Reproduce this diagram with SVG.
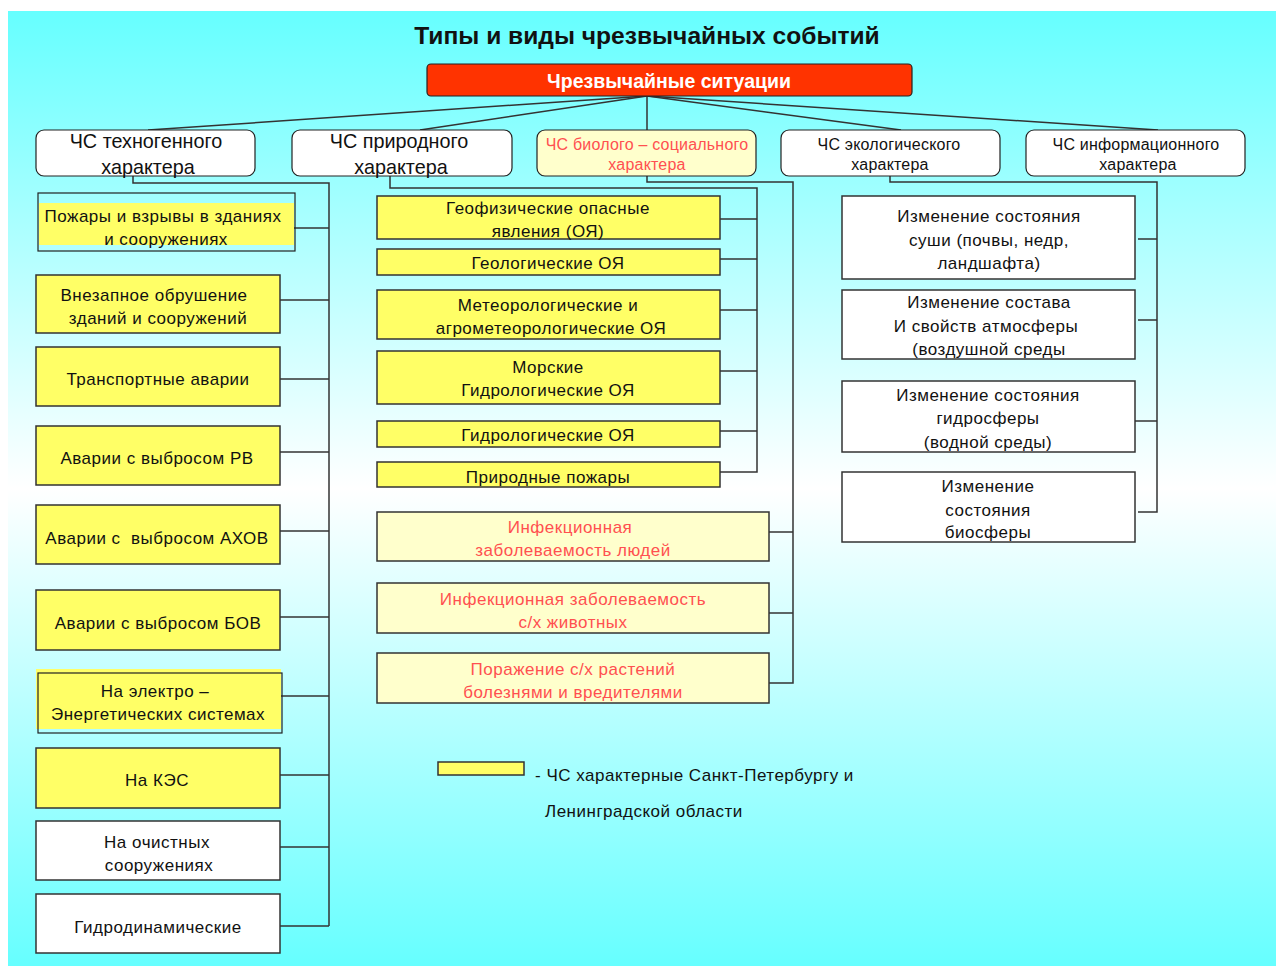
<svg xmlns="http://www.w3.org/2000/svg" width="1276" height="967" viewBox="0 0 1276 967">
<defs>
<linearGradient id="bg" x1="0" y1="0" x2="0" y2="1">
<stop offset="0" stop-color="#66FFFF"/>
<stop offset="0.5" stop-color="#FFFFFF"/>
<stop offset="1" stop-color="#66FFFF"/>
</linearGradient>
<style>
text{font-family:"Liberation Sans",Arial,sans-serif;text-anchor:middle;dominant-baseline:central;fill:#111}
.box{stroke:#333;stroke-width:1.5}
.y{fill:#FFFF66}
.w{fill:#FFFFFF}
.p{fill:#FFFFCC}
.hd{fill:#FFFFFF;stroke:#222;stroke-width:1.2}
.t16{font-size:17px;letter-spacing:0.5px}
.t19{font-size:19.8px}
.t15{font-size:16px;letter-spacing:0.2px}
.red{fill:#FF5050}
.con line,.con polyline{stroke:#333;stroke-width:1.5;fill:none}
</style>
</defs>
<rect x="8" y="11" width="1268" height="955" fill="url(#bg)"/>
<text x="647" y="35" style="font-size:24.6px;font-weight:bold">Типы и виды чрезвычайных событий</text>

<g class="con">
<line x1="647" y1="96" x2="148" y2="130"/>
<line x1="647" y1="96" x2="420" y2="130"/>
<line x1="647" y1="96" x2="647" y2="130"/>
<line x1="647" y1="96" x2="901" y2="130"/>
<line x1="647" y1="96" x2="1158" y2="130"/>
<polyline points="133,176 133,183 329,183 329,926"/>
<line x1="293" y1="228" x2="329" y2="228"/>
<line x1="280" y1="300" x2="329" y2="300"/>
<line x1="280" y1="379" x2="329" y2="379"/>
<line x1="280" y1="452" x2="329" y2="452"/>
<line x1="280" y1="531" x2="329" y2="531"/>
<line x1="280" y1="617" x2="329" y2="617"/>
<line x1="281" y1="696" x2="329" y2="696"/>
<line x1="280" y1="775" x2="329" y2="775"/>
<line x1="280" y1="847" x2="329" y2="847"/>
<line x1="280" y1="926" x2="329" y2="926"/>
<polyline points="390,176 390,188 757,188 757,472 720,472"/>
<line x1="720" y1="219" x2="757" y2="219"/>
<line x1="720" y1="259" x2="757" y2="259"/>
<line x1="720" y1="310" x2="757" y2="310"/>
<line x1="720" y1="371" x2="757" y2="371"/>
<line x1="720" y1="431" x2="757" y2="431"/>
<polyline points="647,176 647,182 793,182 793,683 767,683"/>
<line x1="767" y1="532" x2="793" y2="532"/>
<line x1="767" y1="613" x2="793" y2="613"/>
<polyline points="890,176 890,182 1157,182 1157,512 1138,512"/>
<line x1="1138" y1="239" x2="1157" y2="239"/>
<line x1="1138" y1="320" x2="1157" y2="320"/>
<line x1="1128" y1="421" x2="1157" y2="421"/>
</g>

<g id="root">
<rect x="427" y="64" width="485" height="32" rx="4" fill="#FF3300" stroke="#222" stroke-width="1.2"/>
<text x="669" y="81" style="font-size:19.5px;font-weight:bold;fill:#FFFFFF">Чрезвычайные ситуации</text>
</g>

<g id="h1"><rect class="hd" x="36" y="130" width="219" height="46" rx="8"/>
<text class="t19" x="146" y="141">ЧС техногенного</text><text class="t19" x="148" y="167">характера</text></g>
<g id="h2"><rect class="hd" x="292" y="130" width="220" height="46" rx="8"/>
<text class="t19" x="399" y="141">ЧС природного</text><text class="t19" x="401" y="167">характера</text></g>
<g id="h3"><rect class="hd" x="537" y="130" width="219" height="46" rx="8" style="fill:#FFFFCC"/>
<text class="t15 red" x="647" y="144">ЧС биолого – социального</text><text class="t15 red" x="647" y="164">характера</text></g>
<g id="h4"><rect class="hd" x="781" y="130" width="219" height="46" rx="8"/>
<text class="t15" x="889" y="144">ЧС экологического</text><text class="t15" x="890" y="164">характера</text></g>
<g id="h5"><rect class="hd" x="1026" y="130" width="219" height="46" rx="8"/>
<text class="t15" x="1136" y="144">ЧС информационного</text><text class="t15" x="1138" y="164">характера</text></g>

<g id="t1"><rect class="y" x="39" y="203" width="255" height="42"/><rect x="38" y="193" width="257" height="58" fill="none" stroke="#222" stroke-width="1.2"/>
<text class="t16" x="163" y="216">Пожары и взрывы в зданиях</text><text class="t16" x="166" y="239">и сооружениях</text></g>
<g id="t2"><rect class="box y" x="36" y="275" width="244" height="58"/>
<text class="t16" x="154" y="295">Внезапное обрушение</text><text class="t16" x="158" y="318">зданий и сооружений</text></g>
<g id="t3"><rect class="box y" x="36" y="347" width="244" height="59"/>
<text class="t16" x="158" y="379">Транспортные аварии</text></g>
<g id="t4"><rect class="box y" x="36" y="426" width="244" height="59"/>
<text class="t16" x="157" y="458">Аварии с выбросом РВ</text></g>
<g id="t5"><rect class="box y" x="36" y="505" width="244" height="59"/>
<text class="t16" x="157" y="538" xml:space="preserve">Аварии с  выбросом АХОВ</text></g>
<g id="t6"><rect class="box y" x="36" y="590" width="244" height="60"/>
<text class="t16" x="158" y="623">Аварии с выбросом БОВ</text></g>
<g id="t7"><rect class="y" x="36" y="669" width="245" height="60"/><rect x="38" y="673" width="244" height="60" fill="none" stroke="#222" stroke-width="1.2"/>
<text class="t16" x="155" y="691">На электро –</text><text class="t16" x="158" y="714">Энергетических системах</text></g>
<g id="t8"><rect class="box y" x="36" y="748" width="244" height="60"/>
<text class="t16" x="157" y="780">На КЭС</text></g>
<g id="t9"><rect class="box w" x="36" y="821" width="244" height="59"/>
<text class="t16" x="157" y="842">На очистных</text><text class="t16" x="159" y="865">сооружениях</text></g>
<g id="t10"><rect class="box w" x="36" y="894" width="244" height="59"/>
<text class="t16" x="158" y="927">Гидродинамические</text></g>

<g id="n1"><rect class="box y" x="377" y="196" width="343" height="43"/>
<text class="t16" x="548" y="208">Геофизические опасные</text><text class="t16" x="548" y="231">явления (ОЯ)</text></g>
<g id="n2"><rect class="box y" x="377" y="249" width="343" height="26"/>
<text class="t16" x="548" y="263">Геологические ОЯ</text></g>
<g id="n3"><rect class="box y" x="377" y="290" width="343" height="49"/>
<text class="t16" x="548" y="305">Метеорологические и</text><text class="t16" x="551" y="328">агрометеорологические ОЯ</text></g>
<g id="n4"><rect class="box y" x="377" y="351" width="343" height="53"/>
<text class="t16" x="548" y="367">Морские</text><text class="t16" x="548" y="390">Гидрологические ОЯ</text></g>
<g id="n5"><rect class="box y" x="377" y="421" width="343" height="26"/>
<text class="t16" x="548" y="435">Гидрологические ОЯ</text></g>
<g id="n6"><rect class="box y" x="377" y="462" width="343" height="25"/>
<text class="t16" x="548" y="477">Природные пожары</text></g>

<g id="b1"><rect class="box p" x="377" y="512" width="392" height="49"/>
<text class="t16 red" x="570" y="527">Инфекционная</text><text class="t16 red" x="573" y="550">заболеваемость людей</text></g>
<g id="b2"><rect class="box p" x="377" y="583" width="392" height="50"/>
<text class="t16 red" x="573" y="599">Инфекционная заболеваемость</text><text class="t16 red" x="573" y="622">с/х животных</text></g>
<g id="b3"><rect class="box p" x="377" y="653" width="392" height="50"/>
<text class="t16 red" x="573" y="669">Поражение с/х растений</text><text class="t16 red" x="573" y="692">болезнями и вредителями</text></g>

<g id="e1"><rect class="box w" x="842" y="196" width="293" height="83"/>
<text class="t16" x="989" y="216">Изменение состояния</text><text class="t16" x="989" y="240">суши (почвы, недр,</text><text class="t16" x="989" y="263">ландшафта)</text></g>
<g id="e2"><rect class="box w" x="842" y="290" width="293" height="69"/>
<text class="t16" x="989" y="302">Изменение состава</text><text class="t16" x="986" y="326">И свойств атмосферы</text><text class="t16" x="989" y="349">(воздушной среды</text></g>
<g id="e3"><rect class="box w" x="842" y="381" width="293" height="71"/>
<text class="t16" x="988" y="395">Изменение состояния</text><text class="t16" x="988" y="418">гидросферы</text><text class="t16" x="988" y="442">(водной среды)</text></g>
<g id="e4"><rect class="box w" x="842" y="472" width="293" height="70"/>
<text class="t16" x="988" y="486">Изменение</text><text class="t16" x="988" y="510">состояния</text><text class="t16" x="988" y="532">биосферы</text></g>

<g id="legend">
<rect class="box y" x="438" y="762" width="86" height="13"/>
<text class="t16" x="535" y="775" style="text-anchor:start">- ЧС характерные Санкт-Петербургу и</text>
<text class="t16" x="545" y="811" style="text-anchor:start">Ленинградской области</text>
</g>
</svg>
